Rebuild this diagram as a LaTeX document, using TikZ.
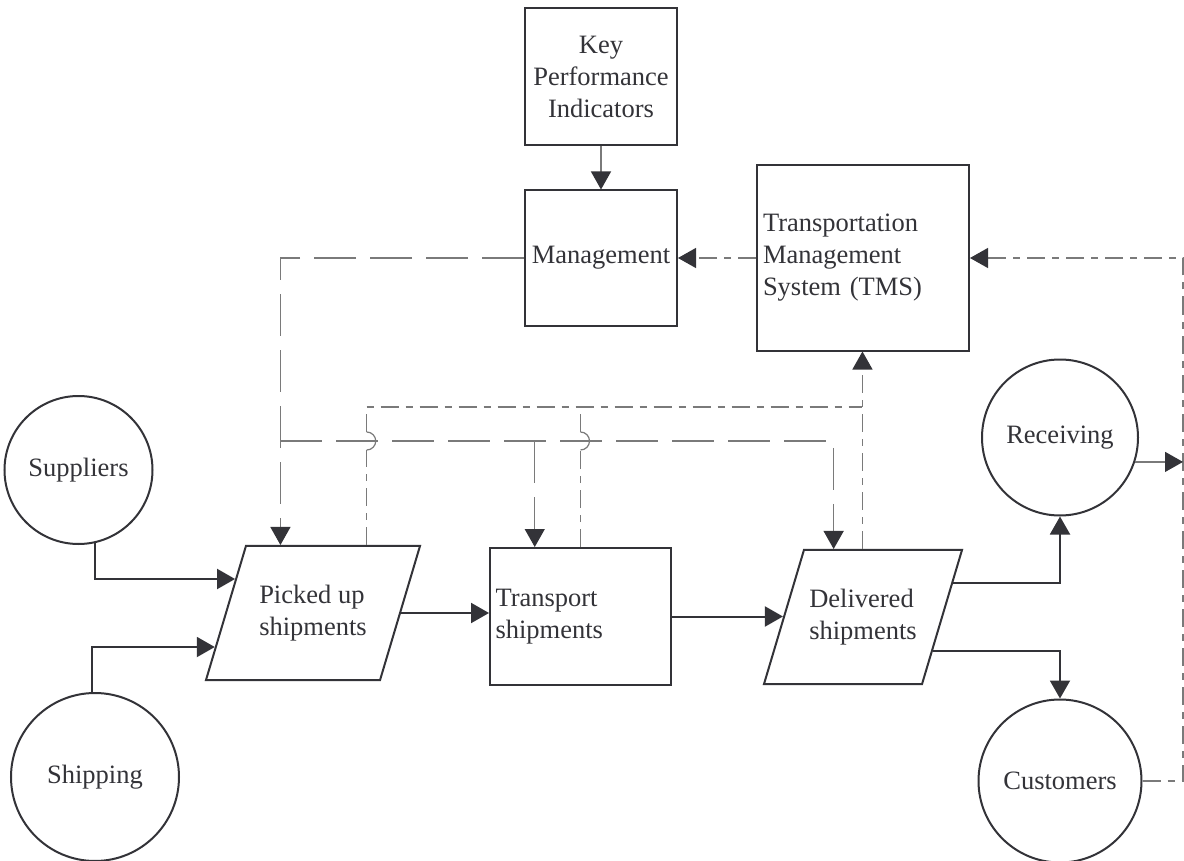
\documentclass[tikz,border=0pt]{standalone}
\usepackage{fontspec}
\setmainfont{Liberation Serif}
\usetikzlibrary{shapes.geometric,arrows.meta,calc}
\definecolor{inkdark}{HTML}{333338}
\definecolor{linegray}{HTML}{7A7A7A}

\begin{document}
\begin{tikzpicture}[x=1pt, y=-1pt,
    font=\fontsize{26.5pt}{32pt}\selectfont, text=inkdark,
    box/.style={rectangle, draw=inkdark, line width=2pt, inner sep=0pt, align=center},
    pgram/.style={trapezium, trapezium left angle=73.4, trapezium right angle=106.6,
        trapezium stretches body=true, draw=inkdark, line width=2pt, inner xsep=0pt, inner ysep=39pt,
        minimum width=214pt, minimum height=134pt, align=left},
    party/.style={circle, draw=inkdark, line width=2pt, inner sep=0pt},
    headarrow/.style={-{Triangle[length=18pt, width=20pt, color=inkdark]}},
    flow/.style={draw=inkdark, line width=2pt, headarrow},
    feed/.style={draw=linegray, line width=1.2pt},
    cmd/.style={feed, dash pattern=on 42pt off 14pt},
    fb/.style={feed, dash pattern=on 18pt off 7pt on 7pt off 7pt}
]
    \useasboundingbox (0,0) rectangle (1184,861);

    % Control boxes
    \node[box, minimum width=152pt, minimum height=137pt] (kpi) at (601,76.5) {Key\\Performance\\Indicators};
    \node[box, minimum width=152pt, minimum height=135pt] (mgmt) at (601,258) {Management};
    \node[box, minimum width=212pt, minimum height=185pt, text width=200pt, align=left] (tms) at (863,258) {Transportation\\Management\\System (TMS)};

    % Outside parties
    \node[party, minimum size=148pt] (suppliers) at (78.5,470) {Suppliers};
    \node[party, minimum size=168pt] (shipping) at (95,777) {Shipping};
    \node[party, minimum size=156pt] (receiving) at (1060,437.5) {Receiving};
    \node[party, minimum size=163pt] (customers) at (1060,781) {Customers};

    % Process steps
    \node[pgram] (picked) at (313,613) {Picked up\\shipments};
    \node[box, minimum width=181pt, minimum height=137pt, text width=170pt, align=left] (transport) at (580.5,616.5) {Transport\\shipments};
    \node[pgram, minimum width=198pt] (delivered) at (863,617) {Delivered\\shipments};

    % Ports and bus lines
    \coordinate (pin1) at ($(picked.top left corner)!0.25!(picked.bottom left corner)$);
    \coordinate (pin2) at ($(picked.top left corner)!0.75!(picked.bottom left corner)$);
    \coordinate (dout1) at ($(delivered.top right corner)!0.25!(delivered.bottom right corner)$);
    \coordinate (dout2) at ($(delivered.top right corner)!0.75!(delivered.bottom right corner)$);
    \coordinate (p1) at ($(picked.top left corner)!0.2!(picked.top right corner)$);
    \coordinate (p2) at ($(picked.top left corner)!0.69!(picked.top right corner)$);
    \coordinate (t1) at ($(transport.north west)!0.25!(transport.north east)$);
    \coordinate (d1) at ($(delivered.top left corner)!0.19!(delivered.top right corner)$);
    \coordinate (d2) at ($(delivered.top left corner)!0.37!(delivered.top right corner)$);
    \coordinate (cmdbus) at (0,441);
    \coordinate (fbbus) at (0,407);
    \coordinate (bus) at (1183,0);

    % Material flow
    \draw[flow] (suppliers.-77) |- (pin1);
    \draw[flow] (shipping.92) |- (pin2);
    \draw[flow] (picked.east) -- (picked.east -| transport.west);
    \draw[flow] (transport.east) -- (transport.east -| delivered.west);
    \draw[flow] (dout1) -| (receiving.south);
    \draw[flow] (dout2) -| (customers.north);

    % Commands
    \draw[feed, headarrow] (kpi) -- (mgmt);
    \draw[cmd, headarrow] (mgmt.west) -| (p1);
    \draw[cmd, headarrow] (p1 |- cmdbus) -| (d1);
    \draw[cmd, headarrow] (t1 |- cmdbus) -- (t1);

    % Feedback (with jumps over the command line)
    \draw[fb] (p2) -- ($(p2 |- cmdbus)+(0,9)$) coordinate (j1);
    \draw[feed] (j1) arc[start angle=-90, end angle=90, radius=9pt] coordinate (j1top);
    \draw[fb] (j1top) -- (p2 |- fbbus) -- (d2 |- fbbus);
    \draw[fb] (transport.north) -- ($(transport.north |- cmdbus)+(0,9)$) coordinate (j2);
    \draw[feed] (j2) arc[start angle=-90, end angle=90, radius=9pt] coordinate (j2top);
    \draw[fb] (j2top) -- (transport.north |- fbbus);
    \draw[fb, headarrow] (d2) -- (d2 |- tms.south);
    \draw[fb, headarrow] (tms.west) -- (mgmt.east);
    \draw[fb, headarrow] (customers.east) -- (customers.east -| bus) |- (tms.east);
    \draw[feed, headarrow] (receiving.-18) -- (receiving.-18 -| bus);
\end{tikzpicture}
\end{document}
